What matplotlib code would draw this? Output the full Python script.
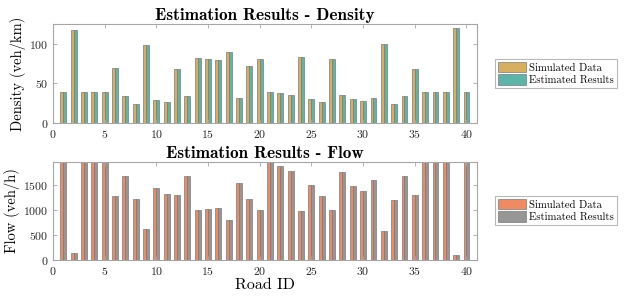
import numpy as np
import matplotlib
matplotlib.use("Agg")
import matplotlib.pyplot as plt

road_ids = list(range(1, 41))

density_sim = [39, 118, 39, 39, 39, 69, 34, 24, 98, 29,
               27, 68, 34, 82, 81, 80, 90, 31, 72, 81,
               39, 38, 35, 83, 30, 26, 81, 35, 30, 28,
               32, 100, 24, 34, 68, 39, 39, 39, 120, 39]
density_est = [39, 118, 39, 39, 39, 69, 34, 24, 98, 29,
               27, 68, 34, 82, 81, 80, 90, 31, 72, 81,
               39, 38, 35, 83, 30, 26, 81, 35, 30, 28,
               32, 100, 24, 34, 68, 39, 39, 39, 120, 39]

flow_sim = [2200, 150, 2200, 2200, 2200, 1285, 1685, 1220, 620, 1440,
            1320, 1305, 1690, 995, 1020, 1040, 800, 1540, 1225, 1000,
            2200, 1890, 1780, 980, 1500, 1285, 1005, 1765, 1495, 1380,
            1600, 585, 1210, 1685, 1300, 2200, 2200, 2200, 105, 2200]
flow_est = list(flow_sim)

plt.rcParams['font.family'] = ['cmr10']
plt.rcParams['axes.formatter.use_mathtext'] = True

w = 0.28
x = np.array(road_ids)

fig = plt.figure(figsize=(6.24, 2.97), dpi=100)
ax1 = fig.add_axes([0.085, 0.586, 0.679, 0.333])
ax2 = fig.add_axes([0.085, 0.1246, 0.679, 0.330])


def style(ax):
    for s in ax.spines.values():
        s.set_color('#a6a6a6')
        s.set_linewidth(0.8)
    ax.tick_params(direction='in', top=True, right=True, length=3,
                   width=0.6, color='#a6a6a6', labelsize=8.5,
                   labelcolor='#262626')
    ax.set_xlim(0, 41)
    ax.set_xticks(range(0, 41, 5))


ax1.bar(x - w / 2, density_sim, w, color='#d6b05e', edgecolor='#7a7a7a',
        linewidth=0.5, label='Simulated Data')
ax1.bar(x + w / 2, density_est, w, color='#5bb5a9', edgecolor='#7a7a7a',
        linewidth=0.5, label='Estimated Results')
style(ax1)
ax1.set_ylim(0, 125)
ax1.set_yticks([0, 50, 100])
ax1.set_ylabel('Density (veh/km)', fontsize=10.5, labelpad=2)
ax1.set_title('Estimation Results - Density', fontsize=12.4, family='cmb10', pad=3)

ax2.bar(x - w / 2, flow_sim, w, color='#f08a62', edgecolor='#7a7a7a',
        linewidth=0.5, label='Simulated Data')
ax2.bar(x + w / 2, flow_est, w, color='#969696', edgecolor='#7a7a7a',
        linewidth=0.5, label='Estimated Results')
style(ax2)
ax2.set_ylim(0, 1970)
ax2.set_yticks([0, 500, 1000, 1500])
ax2.set_ylabel('Flow (veh/h)', fontsize=10.5, labelpad=2)
ax2.set_xlabel('Road ID', fontsize=11.5, labelpad=1)
ax2.set_title('Estimation Results - Flow', fontsize=12.4, family='cmb10', pad=3)

for ax, yc in [(ax1, 1 - 73.5 / 297), (ax2, 1 - 210.5 / 297)]:
    leg = ax.legend(loc='center left', bbox_to_anchor=(495 / 624, yc),
                    bbox_transform=fig.transFigure, fontsize=7.7,
                    frameon=True, fancybox=False, borderpad=0.3,
                    handlelength=2.6, handleheight=1.1, handletextpad=0.25,
                    labelspacing=0.15, borderaxespad=0)
    leg.get_frame().set_edgecolor('#a6a6a6')
    leg.get_frame().set_linewidth(0.8)

fig.savefig('out.png', dpi=100)
